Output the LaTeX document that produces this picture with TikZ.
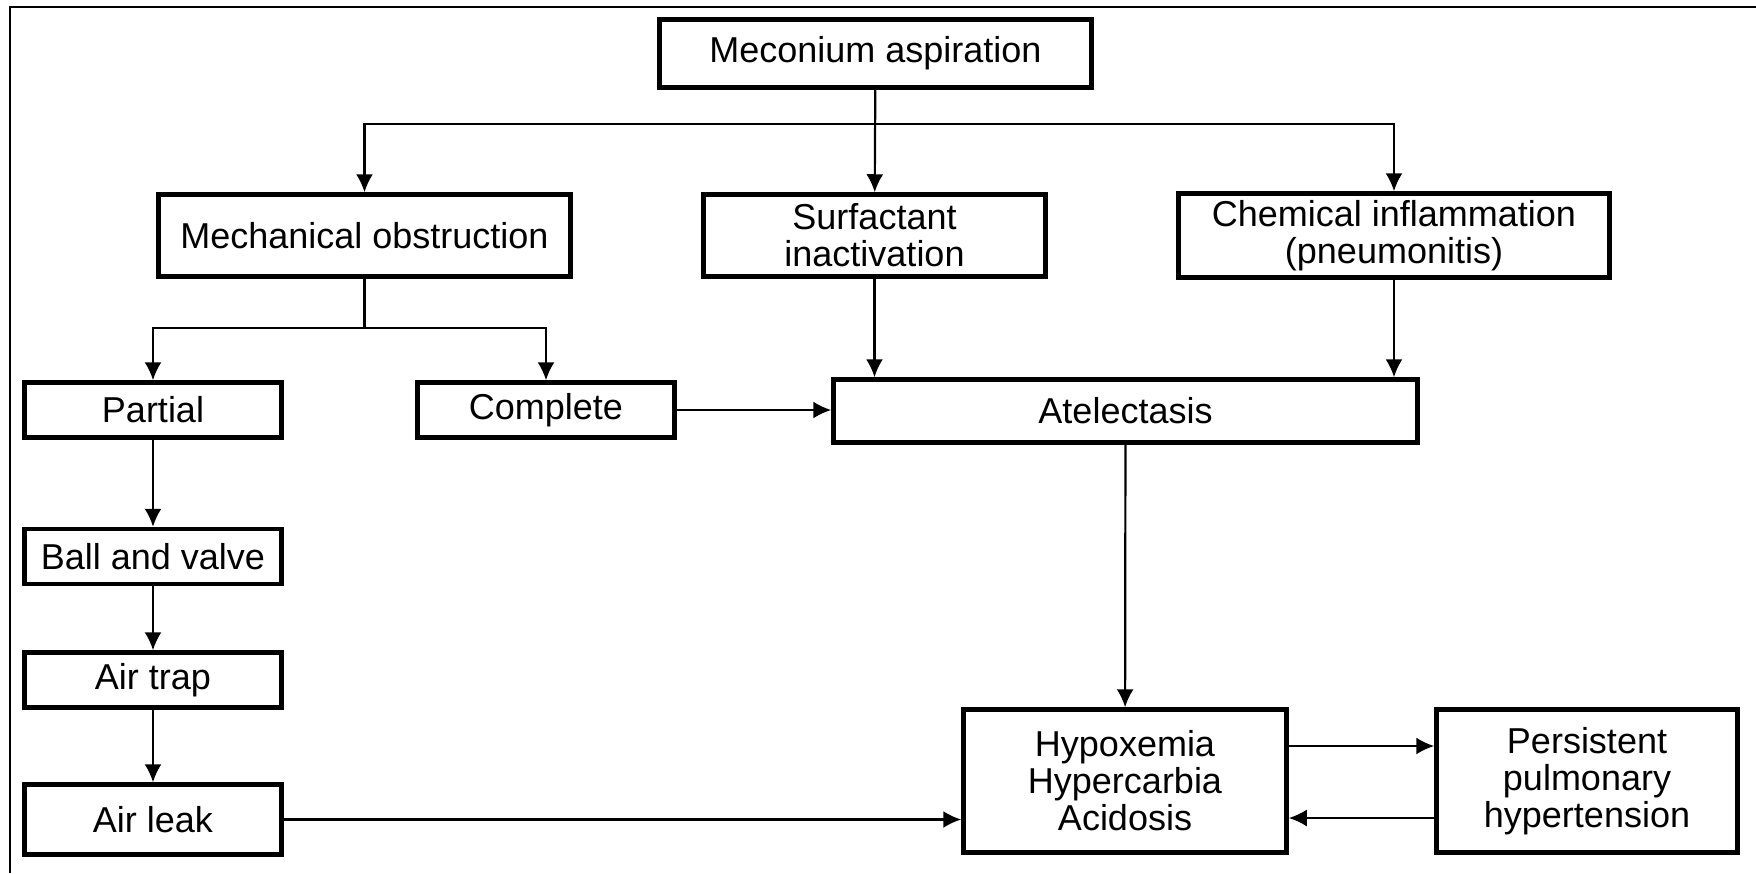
\documentclass[tikz,border=0pt]{standalone}
\usepackage{fontspec}
\setmainfont{Liberation Sans}
\usetikzlibrary{arrows.meta,positioning}

\begin{document}
\begin{tikzpicture}[
  x=100pt,y=-100pt,>={Latex[length=18pt,width=17pt]},
  cause/.style={draw,line width=4.5pt,align=center,inner sep=0pt,
    font=\fontsize{36}{37}\selectfont},
  branch/.style={cause,minimum width=257pt,minimum height=55pt},
  link/.style={line width=2.2pt}
]
\useasboundingbox (0,0) rectangle (17.56,8.73);
\draw[line width=2.5pt] (0.10,8.73) -- (0.10,0.07) -- (17.56,0.07);
% top level
\node[cause,minimum width=432pt,minimum height=68pt] (mec) at (8.755,0.535) {Meconium aspiration};
\node[cause,minimum width=412pt,minimum height=82pt] (mech) at (3.645,2.355) {Mechanical obstruction};
\node[cause,minimum width=342pt,minimum height=82pt] (surf) at (8.745,2.355) {Surfactant\\inactivation};
\node[cause,minimum width=431pt,minimum height=84pt] (chem) at (13.94,2.355) {Chemical inflammation\\(pneumonitis)};
% obstruction branch
\node[branch] (partial) at (1.53,4.10) {Partial};
\node[branch] (complete) at (5.46,4.10) {Complete};
\node[branch] (ball) at (1.53,5.565) {Ball and valve};
\node[branch] (trap) at (1.53,6.80) {Air trap};
\node[branch,minimum height=70pt] (leak) at (1.53,8.195) {Air leak};
% outcome
\node[cause,minimum width=584pt,minimum height=63pt] (atel) at (11.255,4.11) {Atelectasis};
\node[cause,minimum width=323pt,minimum height=143pt] (hypox) at (11.25,7.81) {Hypoxemia\\Hypercarbia\\Acidosis};
\node[cause,minimum width=301pt,minimum height=143pt] (pph) at (15.87,7.81) {Persistent\\pulmonary\\hypertension};
\coordinate (split) at (8.76,1.24);
\coordinate (fork) at (3.645,3.28);
\draw[link,->] (mec) -- (surf);
\draw[link,->] (split) -| (mech);
\draw[link,->] (split) -| (chem);
\draw[link] (mech) -- (fork);
\draw[link,->] (fork) -| (partial);
\draw[link,->] (fork) -| (complete);
\draw[link,->] (complete) -- (complete -| atel.west);
\draw[link,->] (surf) -- (surf |- atel.north);
\draw[link,->] (chem) -- (chem |- atel.north);
\draw[link,->] (partial) -- (ball);
\draw[link,->] (ball) -- (trap);
\draw[link,->] (trap) -- (leak);
\draw[link,->] (atel) -- (hypox);
\draw[link,->] (leak) -- (leak -| hypox.west);
\draw[link,->] ([yshift=35pt]hypox.east) -- ([yshift=35pt]pph.west);
\draw[link,->] ([yshift=-37pt]pph.west) -- ([yshift=-37pt]hypox.east);
\end{tikzpicture}
\end{document}
